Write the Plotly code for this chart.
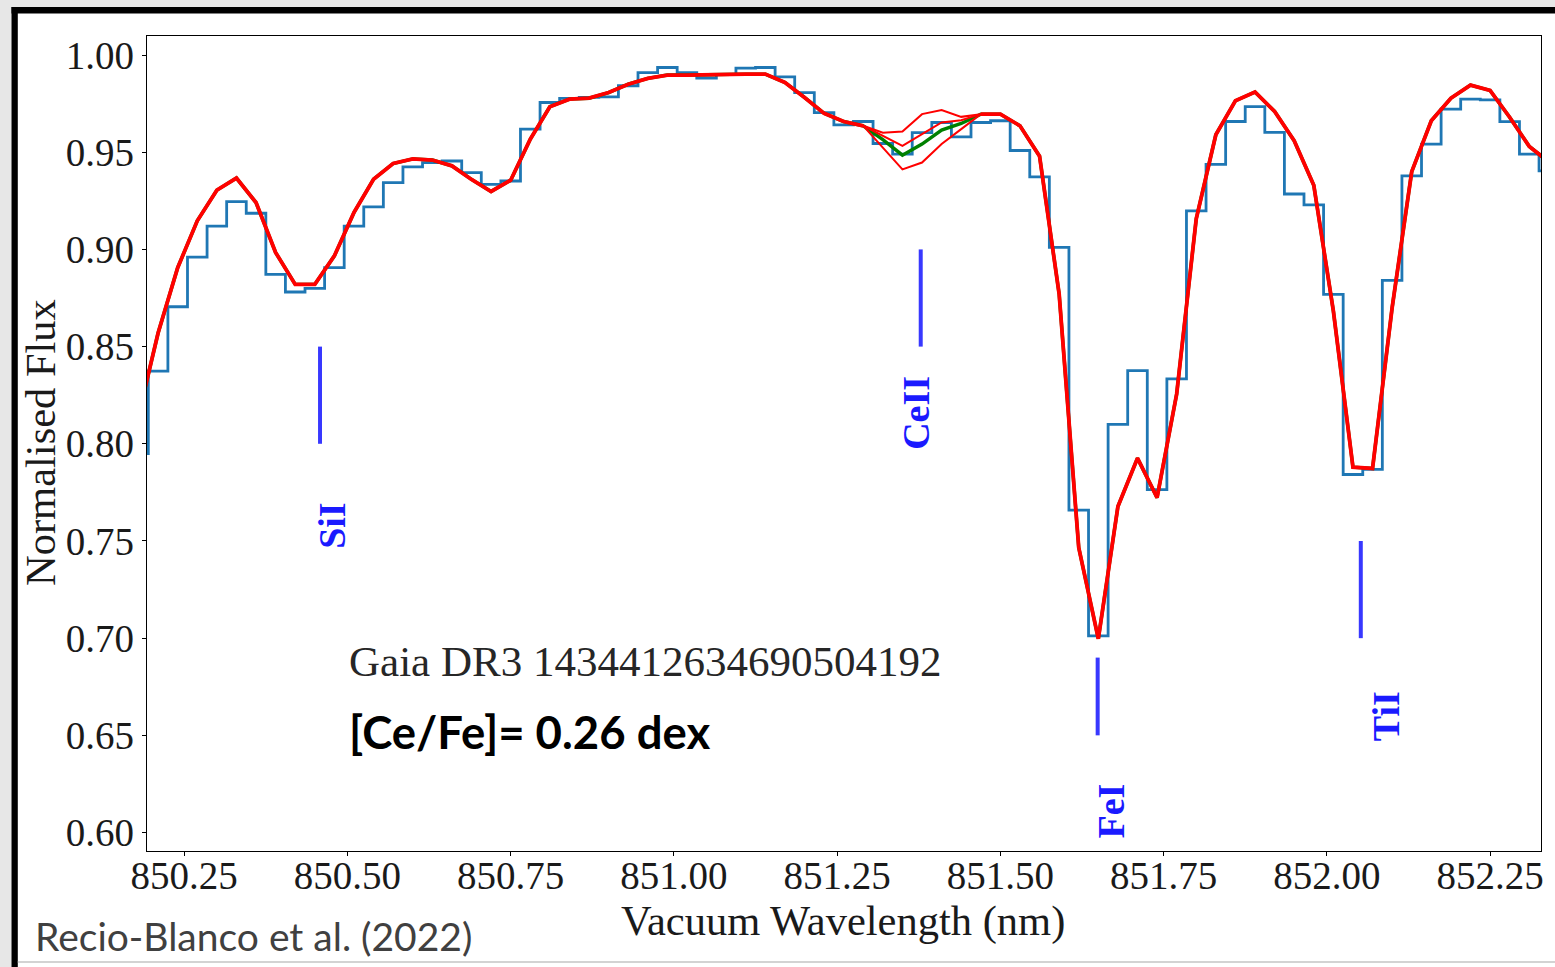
import plotly.graph_objects as go

# Gaia RVS spectrum around the Ce II 851.4 nm line
wavelength = [
    850.18, 850.21, 850.24, 850.27, 850.30, 850.33, 850.36, 850.39, 850.42, 850.45,
    850.48, 850.51, 850.54, 850.57, 850.60, 850.63, 850.66, 850.69, 850.72, 850.75,
    850.78, 850.81, 850.84, 850.87, 850.90, 850.93, 850.96, 850.99, 851.02, 851.05,
    851.08, 851.11, 851.14, 851.17, 851.20, 851.23, 851.26, 851.29, 851.32, 851.35,
    851.38, 851.41, 851.44, 851.47, 851.50, 851.53, 851.56, 851.59, 851.62, 851.65,
    851.68, 851.71, 851.74, 851.77, 851.80, 851.83, 851.86, 851.89, 851.92, 851.95,
    851.98, 852.01, 852.04, 852.07, 852.10, 852.13, 852.16, 852.19, 852.22, 852.25,
    852.28, 852.31, 852.34,
]

# observed normalised flux
observed = [
    0.795, 0.8374, 0.8705, 0.896, 0.912, 0.9246, 0.9186, 0.8872, 0.8781, 0.880,
    0.8906, 0.912, 0.9219, 0.9344, 0.9425, 0.9447, 0.9455, 0.9395, 0.9335, 0.9352,
    0.9619, 0.9756, 0.9777, 0.9782, 0.9785, 0.9842, 0.991, 0.9936, 0.991, 0.9882,
    0.9899, 0.9933, 0.9936, 0.9888, 0.9807, 0.9704, 0.9641, 0.9658, 0.9545, 0.949,
    0.9601, 0.9653, 0.9579, 0.9653, 0.9662, 0.9509, 0.9373, 0.9011, 0.7659, 0.7012,
    0.810, 0.8376, 0.7764, 0.8334, 0.9198, 0.9438, 0.9658, 0.9735, 0.9602, 0.9285,
    0.9229, 0.8769, 0.7842, 0.7868, 0.8841, 0.9378, 0.9542, 0.9722, 0.9773, 0.9769,
    0.9657, 0.949, 0.9404,
]

# synthetic spectrum; None marks the Ce II fitting window
synthetic = [
    0.8145, 0.857, 0.8906, 0.9147, 0.9305, 0.9367, 0.9241, 0.8984, 0.882, 0.882,
    0.8967, 0.919, 0.9361, 0.9442, 0.9466, 0.946, 0.943, 0.936, 0.9298, 0.9356,
    0.9567, 0.9734, 0.9773, 0.9778, 0.9807, 0.985, 0.988, 0.9897, 0.9897, 0.99,
    0.99, 0.9902, 0.9902, 0.9859, 0.9782, 0.97, 0.9658, 0.9636, None, None,
    None, None, None, 0.9696, 0.9696, 0.9636, 0.948, 0.8771, 0.7466, 0.6997,
    0.7677, 0.7926, 0.7723, 0.8256, 0.9158, 0.959, 0.9765, 0.981, 0.971, 0.9559,
    0.933, 0.8683, 0.788, 0.7873, 0.87, 0.94, 0.9662, 0.9778, 0.9845, 0.9818,
    0.968, 0.953, 0.945,
]

# model flux inside the Ce II window: best fit and three trial abundances
ce_best = [0.9565, 0.9485, 0.9542, 0.9614, 0.9648]
ce_trials = [
    [0.9600, 0.9607, 0.9696, 0.9717, 0.9682],
    [0.9585, 0.9533, 0.9593, 0.9653, 0.9665],
    [0.9525, 0.9412, 0.9447, 0.9542, 0.9619],
]

# line identifications: label, wavelength, marker extent, label position
line_ids = ["SiI", "CeII", "FeI", "TiI"]
line_wl = [850.458, 851.378, 851.649, 852.052]
line_lo = [0.80, 0.85, 0.65, 0.70]
line_hi = [0.85, 0.90, 0.69, 0.75]
label_wl = [850.477, 851.371, 851.670, 852.091]
label_flux = [0.758, 0.816, 0.611, 0.660]

star_name = "Gaia DR3 1434412634690504192"
abundance = "[Ce/Fe]= 0.26 dex"
citation = "Recio-Blanco et al. (2022)"


def fill_window(window):
    out, j = [], 0
    for v in synthetic:
        if v is None:
            out.append(window[j])
            j += 1
        else:
            out.append(v)
    return out


W, H = 1555, 967
ML, MR, MT, MB = 147, 14, 36, 116
PW, PH = W - ML - MR, H - MT - MB


def px(X):
    return (X - ML) / PW


def py(Y):
    return (H - MB - Y) / PH


SERIF = "Liberation Serif, Times New Roman, serif"
SANS = "Lato, Open Sans, sans-serif"

fig = go.Figure()

fig.add_trace(go.Scatter(
    x=wavelength, y=observed, mode="lines",
    line=dict(color="#1f77b4", width=2.8, shape="hvh"), hoverinfo="skip"))

fig.add_trace(go.Scatter(
    x=wavelength, y=fill_window(ce_best), mode="lines",
    line=dict(color="#008000", width=3.4), hoverinfo="skip"))

for trial in ce_trials:
    fig.add_trace(go.Scatter(
        x=wavelength, y=fill_window(trial), mode="lines",
        line=dict(color="#ff0000", width=2.0), hoverinfo="skip"))

fig.add_trace(go.Scatter(
    x=wavelength, y=synthetic, mode="lines", connectgaps=False,
    line=dict(color="#ff0000", width=3.8), hoverinfo="skip"))

annotations = []
for name, wl, lo, hi, lx, ly in zip(line_ids, line_wl, line_lo, line_hi,
                                      label_wl, label_flux):
    fig.add_trace(go.Scatter(
        x=[wl, wl], y=[lo, hi], mode="lines",
        line=dict(color="rgba(0,0,255,0.78)", width=4), hoverinfo="skip"))
    annotations.append(dict(
        x=lx, y=ly, xref="x", yref="y", text=name, showarrow=False,
        textangle=-90, xanchor="center", yanchor="middle",
        font=dict(family=SERIF, size=38, color="#1a1aff", weight="bold")))

annotations += [
    dict(x=px(347), y=py(661), xref="paper", yref="paper", text=star_name,
         showarrow=False, xanchor="left", yanchor="middle",
         font=dict(family=SERIF, size=43, color="#262626")),
    dict(x=px(347), y=py(731), xref="paper", yref="paper", text=abundance,
         showarrow=False, xanchor="left", yanchor="middle",
         font=dict(family=SANS, size=45.5, color="#000000", weight="bold")),
    dict(x=px(843), y=py(921), xref="paper", yref="paper",
         text="Vacuum Wavelength (nm)", showarrow=False,
         xanchor="center", yanchor="middle",
         font=dict(family=SERIF, size=42.5, color="#1a1a1a")),
    dict(x=px(40), y=py(443), xref="paper", yref="paper",
         text="Normalised Flux", showarrow=False, textangle=-90,
         xanchor="center", yanchor="middle",
         font=dict(family=SERIF, size=42.5, color="#1a1a1a")),
    dict(x=px(33), y=py(936), xref="paper", yref="paper", text=citation,
         showarrow=False, xanchor="left", yanchor="middle",
         font=dict(family=SANS, size=39, color="#404040")),
]

# slide frame: grey page edge, black border on top and left, faint bottom rule
shapes = [
    dict(type="rect", xref="paper", yref="paper", x0=px(0), x1=px(W),
         y0=py(0), y1=py(7), fillcolor="#e7e7e7", line_width=0, layer="below"),
    dict(type="rect", xref="paper", yref="paper", x0=px(0), x1=px(11.5),
         y0=py(0), y1=py(H), fillcolor="#e7e7e7", line_width=0, layer="below"),
    dict(type="rect", xref="paper", yref="paper", x0=px(11.5), x1=px(W),
         y0=py(7), y1=py(13.5), fillcolor="#000000", line_width=0),
    dict(type="rect", xref="paper", yref="paper", x0=px(11.5), x1=px(17.8),
         y0=py(7), y1=py(H), fillcolor="#000000", line_width=0),
    dict(type="line", xref="paper", yref="paper", x0=px(17.8), x1=px(W),
         y0=py(962), y1=py(962), line=dict(color="#c4c4c4", width=1.6)),
]

axis_common = dict(
    showgrid=False, zeroline=False, showline=True, mirror=True,
    linecolor="#000000", linewidth=1.2, ticks="outside", ticklen=4,
    tickwidth=1, tickcolor="#000000", tickformat=".2f",
    tickfont=dict(family=SERIF, size=39, color="#1a1a1a"),
)

fig.update_layout(
    width=W, height=H,
    margin=dict(l=ML, r=MR, t=MT, b=MB, autoexpand=False),
    paper_bgcolor="#ffffff", plot_bgcolor="#ffffff",
    showlegend=False,
    xaxis=dict(range=[850.193, 852.328], tick0=850.25, dtick=0.25,
               ticklabelstandoff=-14, **axis_common),
    yaxis=dict(range=[0.5905, 1.0098], tick0=0.60, dtick=0.05,
               **axis_common),
    annotations=annotations,
    shapes=shapes,
)

fig.write_html("out.html", config={"displayModeBar": False})
